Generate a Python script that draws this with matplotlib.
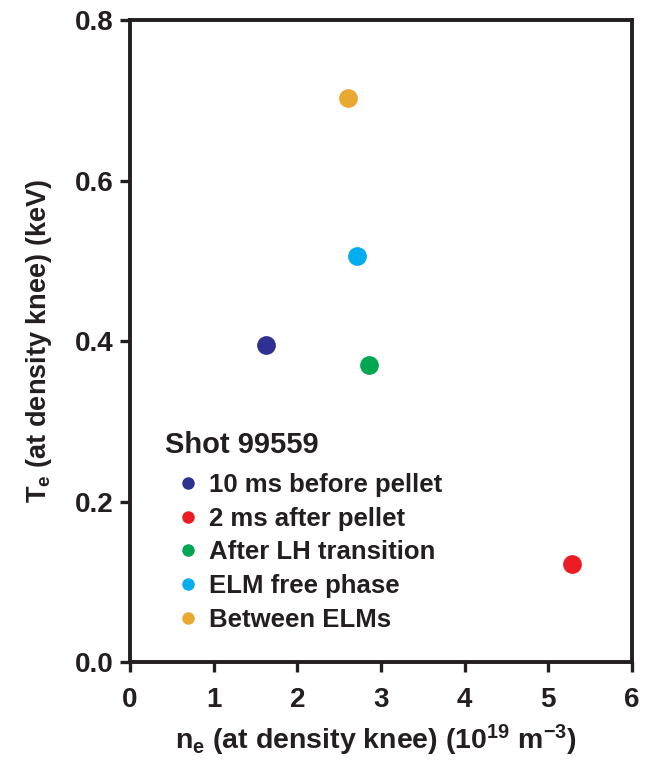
import matplotlib
matplotlib.use("Agg")
import matplotlib.pyplot as plt
from matplotlib.lines import Line2D

plt.rcParams['font.family'] = ['Liberation Sans', 'DejaVu Sans']
plt.rcParams['font.weight'] = 'bold'
plt.rcParams['axes.labelweight'] = 'bold'
plt.rcParams['mathtext.fontset'] = 'custom'
plt.rcParams['mathtext.rm'] = 'Liberation Sans:bold'
plt.rcParams['mathtext.it'] = 'Liberation Sans:bold'
plt.rcParams['mathtext.bf'] = 'Liberation Sans:bold'

# data
labels = ['10 ms before pellet', '2 ms after pellet', 'After LH transition',
          'ELM free phase', 'Between ELMs']
ne = [1.62, 5.28, 2.86, 2.71, 2.61]
te = [0.395, 0.122, 0.370, 0.506, 0.703]
colors = ['#2E3192', '#ED1C24', '#00A651', '#00AEEF', '#E9A830']
ink = '#231F20'

fig = plt.figure(figsize=(6.6, 7.6), dpi=100)
ax = fig.add_axes([130 / 660, 98 / 760, 502 / 660, 642 / 760])

for x, y, c in zip(ne, te, colors):
    ax.plot(x, y, 'o', color=c, markersize=13.5, markeredgewidth=0, zorder=3)

ax.set_xlim(0, 6)
ax.set_ylim(0, 0.8)
ax.set_xticks(range(7))
ax.set_yticks([0.0, 0.2, 0.4, 0.6, 0.8])
ax.set_yticklabels(['0.0', '0.2', '0.4', '0.6', '0.8'])

for s in ax.spines.values():
    s.set_linewidth(2.8)
    s.set_color(ink)
ax.tick_params(direction='out', length=7, width=2.4, labelsize=20,
               colors=ink, pad=5)
ax.tick_params(axis='x', pad=11)

ax.set_xlabel(r'n$_\mathregular{e}$ (at density knee) (10$^\mathregular{19}$ m$^\mathregular{-3}$)',
              fontsize=20.5, color=ink)
ax.xaxis.set_label_coords(0.49, -0.094)
ax.set_ylabel(r'T$_\mathregular{e}$ (at density knee) (keV)',
              fontsize=19.5, color=ink, labelpad=14.5)

ax.text(0.07, 0.338, 'Shot 99559', transform=ax.transAxes, fontsize=21,
        color=ink, ha='left', va='center')

handles = [Line2D([], [], marker='o', linestyle='none', color=c,
                  markersize=9, markeredgewidth=0) for c in colors]
leg = ax.legend(handles, labels, loc='upper left',
                bbox_to_anchor=(0.07, 0.3145), frameon=False, fontsize=18.5,
                handlelength=0.8, handletextpad=0.4,
                labelspacing=0.38, borderpad=0)
for t in leg.get_texts():
    t.set_color(ink)

fig.savefig('out.png', dpi=100)
